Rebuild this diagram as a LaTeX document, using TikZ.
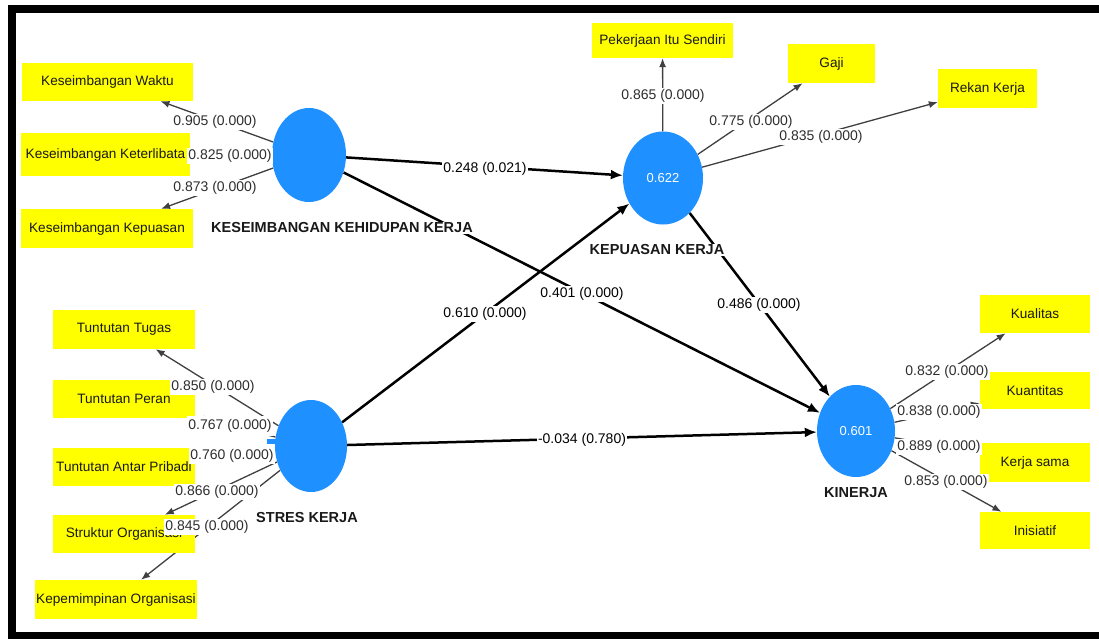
\documentclass[tikz,border=0pt]{standalone}
\usepackage{fontspec}
\setmainfont{Liberation Sans}
\usetikzlibrary{arrows.meta,shapes.geometric}
\pgfdeclarelayer{edges}
\pgfdeclarelayer{labels}
\pgfsetlayers{edges,main,labels}
\definecolor{lvblue}{RGB}{30,144,255}
\definecolor{indyellow}{RGB}{255,255,0}
\tikzset{
  lv/.style={ellipse, fill=lvblue, inner sep=0pt, text=white, font=\fontsize{13}{15}\selectfont},
  ind/.style={rectangle, fill=indyellow, inner sep=0pt, font=\fontsize{13.6}{16}\selectfont, text=black!90},
  lvname/.style={fill=white, inner sep=1pt, font=\bfseries\fontsize{14.5}{17}\selectfont, text=black!90},
  ld/.style={draw=black!75, line width=1.3pt, -{Latex[length=9pt,width=7pt]}},
  pth/.style={draw=black, line width=2.5pt, -{Latex[length=12pt,width=10pt]}},
  ldlab/.style={fill=white, inner sep=1pt, font=\fontsize{14}{16}\selectfont, text=black!82},
  pthlab/.style={fill=white, inner sep=1pt, font=\fontsize{14}{16}\selectfont, text=black},
}
\begin{document}
\begin{tikzpicture}[x=1pt,y=-1pt]
\useasboundingbox (0,0) rectangle (1099,639);
% latent variables
\fill[lvblue] (267,439) rectangle (280,444);
\node[lv, minimum width=74pt, minimum height=94pt] (kkk) at (309,155) {};
\node[lv, minimum width=80pt, minimum height=93pt] (kep) at (663,178) {0.622};
\node[lv, minimum width=72pt, minimum height=92pt] (str) at (311,446) {};
\node[lv, minimum width=78pt, minimum height=92pt] (kin) at (856,431) {0.601};
% indicators
\node[ind, minimum width=171pt, minimum height=38pt] (kw) at (107.5,82) {Keseimbangan Waktu};
\node[ind, minimum width=169pt, minimum height=43pt] (kt) at (105.5,154.5) {Keseimbangan Keterlibata};
\node[ind, minimum width=172pt, minimum height=39pt] (kp) at (107,228.5) {Keseimbangan Kepuasan};
\node[ind, minimum width=142pt, minimum height=39pt] (tt) at (124,329.5) {Tuntutan Tugas};
\node[ind, minimum width=142pt, minimum height=38pt] (tp) at (124,399) {Tuntutan Peran};
\node[ind, minimum width=142pt, minimum height=38pt] (ta) at (124,467) {Tuntutan Antar Pribadi};
\node[ind, minimum width=142pt, minimum height=38pt] (so) at (124,534) {Struktur Organisasi};
\node[ind, minimum width=162pt, minimum height=39pt] (ko) at (116,599.5) {Kepemimpinan Organisasi};
\node[ind, minimum width=141pt, minimum height=35pt] (pis) at (662.5,40.5) {Pekerjaan Itu Sendiri};
\node[ind, minimum width=87pt, minimum height=39pt] (gaji) at (831.5,63.5) {Gaji};
\node[ind, minimum width=99pt, minimum height=39pt] (rk) at (987.5,88.5) {Rekan Kerja};
\node[ind, minimum width=110pt, minimum height=38pt] (kual) at (1035,314) {Kualitas};
\node[ind, minimum width=110pt, minimum height=37pt] (kuan) at (1035,390.5) {Kuantitas};
\node[ind, minimum width=110pt, minimum height=39pt] (ks) at (1035,462.5) {Kerja sama};
\node[ind, minimum width=110pt, minimum height=37pt] (ini) at (1035,530.5) {Inisiatif};
% connectors
\begin{pgfonlayer}{edges}
\fill[white] (0,0) rectangle (1099,639);
\draw[ld] (kkk) -- (kw);
\draw[ld] (kkk) -- (kt);
\draw[ld] (kkk) -- (kp);
\draw[ld] (str) -- (tt);
\draw[ld] (str) -- (tp);
\draw[ld] (str) -- (ta);
\draw[ld] (str) -- (so);
\draw[ld] (str) -- (ko);
\draw[ld] (kep) -- (pis);
\draw[ld] (kep) -- (gaji);
\draw[ld] (kep) -- (rk);
\draw[ld] (kin) -- (kual);
\draw[ld] (kin) -- (kuan);
\draw[ld] (kin) -- (ks);
\draw[ld] (kin) -- (ini);
\draw[pth] (kkk) -- (kep);
\draw[pth] (kkk) -- (kin);
\draw[pth] (str) -- (kep);
\draw[pth] (kep) -- (kin);
\draw[pth] (str) -- (kin);
\end{pgfonlayer}
% labels
\begin{pgfonlayer}{labels}
\node[lvname] (nkkk) at (342,228) {KESEIMBANGAN KEHIDUPAN KERJA};
\node[lvname] (nkep) at (657,250) {KEPUASAN KERJA};
\node[lvname] (nstr) at (307,518) {STRES KERJA};
\node[lvname] (nkin) at (856,493) {KINERJA};
\node[ldlab] (l1) at (215,122) {0.905 (0.000)};
\node[ldlab] (l2) at (230,156) {0.825 (0.000)};
\node[ldlab] (l3) at (215,188) {0.873 (0.000)};
\node[ldlab] (l4) at (213,387) {0.850 (0.000)};
\node[ldlab, inner ysep=3pt] (l5) at (230,426) {0.767 (0.000)};
\node[ldlab] (l6) at (232,456) {0.760 (0.000)};
\node[ldlab] (l7) at (217,492) {0.866 (0.000)};
\node[ldlab] (l8) at (207,527) {0.845 (0.000)};
\node[ldlab] (l9) at (663,96) {0.865 (0.000)};
\node[ldlab] (l10) at (751,122) {0.775 (0.000)};
\node[ldlab] (l11) at (821,137) {0.835 (0.000)};
\node[ldlab] (l12) at (947,372) {0.832 (0.000)};
\node[ldlab] (l13) at (939,412) {0.838 (0.000)};
\node[ldlab] (l14) at (939,447) {0.889 (0.000)};
\node[ldlab] (l15) at (946,482) {0.853 (0.000)};
\node[pthlab] (p1) at (485,169) {0.248 (0.021)};
\node[pthlab] (p2) at (582,294) {0.401 (0.000)};
\node[pthlab] (p3) at (485,314) {0.610 (0.000)};
\node[pthlab] (p4) at (759,305) {0.486 (0.000)};
\node[pthlab] (p5) at (582,440) {-0.034 (0.780)};
% frame
\fill[black] (8,5) rectangle (1099,13);
\fill[black] (8,5) rectangle (16,639);
\fill[black] (8,632) rectangle (1099,639);
\end{pgfonlayer}
\end{tikzpicture}
\end{document}
